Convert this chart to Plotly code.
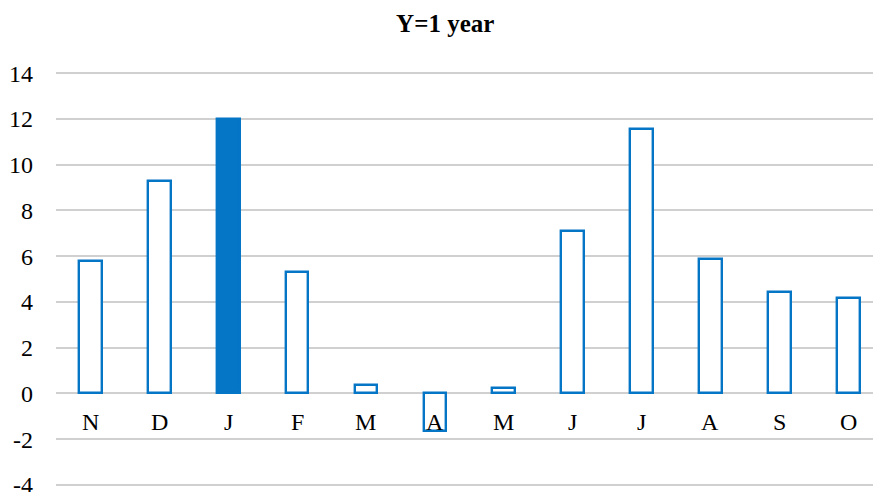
import plotly.graph_objects as go

months = ["N", "D", "J", "F", "M", "A", "M", "J", "J", "A", "S", "O"]
values = [5.78, 9.28, 12.0, 5.31, 0.38, -1.66, 0.23, 7.1, 11.54, 5.89, 4.42, 4.17]
y_ticks = [-4, -2, 0, 2, 4, 6, 8, 10, 12, 14]
title_text = "Y=1 year"

BLUE = "#0575C6"
GRID = "#D0D0D0"
FONT = "Liberation Serif, Times New Roman, serif"
highlight = 2

x = list(range(len(months)))
fills = [BLUE if i == highlight else "white" for i in x]

fig = go.Figure()
fig.add_trace(go.Bar(
    x=x, y=values, width=0.33,
    marker=dict(color=fills, line=dict(color=BLUE, width=2.4)),
    showlegend=False, hoverinfo="skip",
))

for xi, m in zip(x, months):
    fig.add_annotation(x=xi, y=0, xref="x", yref="y", text=m, showarrow=False,
                       yanchor="middle", yshift=-29,
                       font=dict(family=FONT, size=24, color="#000000"))

fig.update_layout(
    width=873, height=492,
    margin=dict(l=56, r=0, t=71.9, b=6.4, autoexpand=False),
    paper_bgcolor="white", plot_bgcolor="white",
    title=dict(text="<b>" + title_text + "</b>", x=0.51, xanchor="center",
               y=1 - 23 / 492, yanchor="middle",
               font=dict(family=FONT, size=25, color="#000000")),
    xaxis=dict(range=[-0.5, 11.36], showticklabels=False, showgrid=False,
               zeroline=False, showline=False, ticks="", automargin=False),
    yaxis=dict(range=[-4.05, 14.05], tickvals=y_ticks, ticktext=[str(v) for v in y_ticks],
               showgrid=True, gridcolor=GRID, automargin=False,
               gridwidth=1.6, zeroline=True, zerolinecolor=GRID, zerolinewidth=1.6,
               showline=False, ticks="", ticklabelstandoff=22,
               ticklabeloverflow="allow",
               tickfont=dict(family=FONT, size=24, color="#000000")),
    bargap=0,
)

fig.write_html("out.html", config={"displayModeBar": False},
               post_script="document.body.style.margin='0px';document.body.style.overflow='hidden';")
